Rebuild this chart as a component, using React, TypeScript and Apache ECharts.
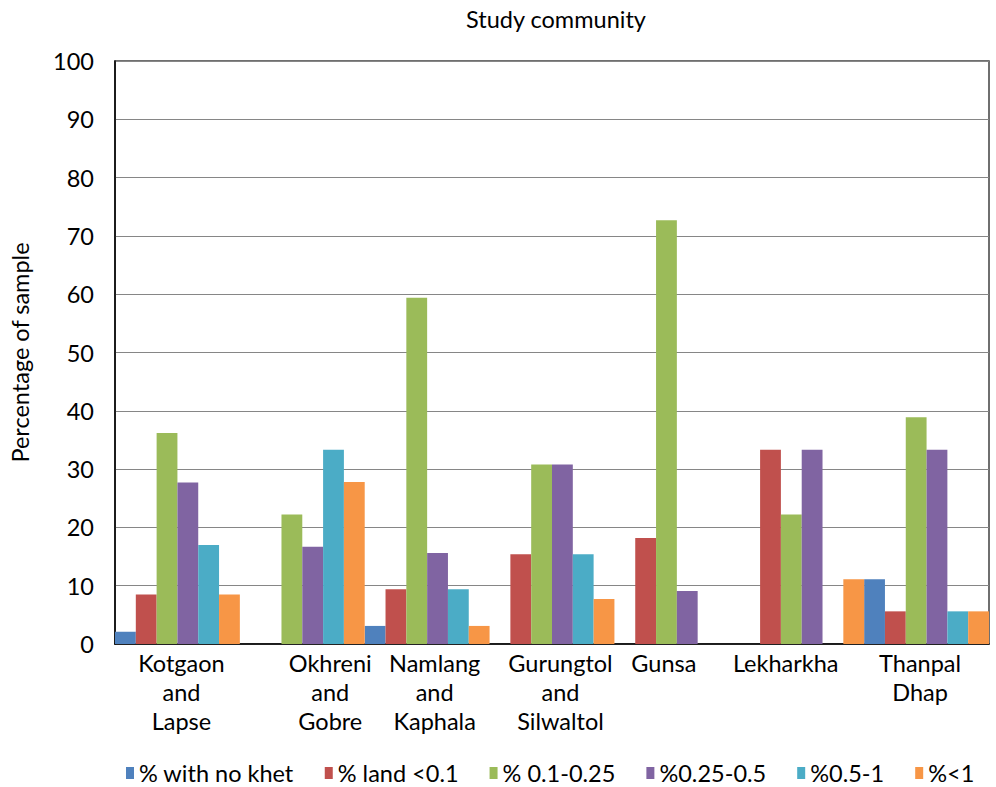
import React, { useEffect, useRef } from "react";
import * as echarts from "echarts";

const categories = [
  "Kotgaon\nand\nLapse",
  "Okhreni\nand\nGobre",
  "Namlang\nand\nKaphala",
  "Gurungtol\nand\nSilwaltol",
  "Gunsa",
  "Lekharkha",
  "Thanpal\nDhap",
];

const seriesNames = [
  "% with no khet",
  "% land <0.1",
  "% 0.1-0.25",
  "%0.25-0.5",
  "%0.5-1",
  "%<1",
];

const noKhet = [2.1, 0, 3.1, 0, 0, 0, 11.1];
const landLt01 = [8.5, 0, 9.4, 15.4, 18.2, 33.3, 5.6];
const land01to025 = [36.2, 22.2, 59.4, 30.8, 72.7, 22.2, 38.9];
const land025to05 = [27.7, 16.7, 15.6, 30.8, 9.1, 33.3, 33.3];
const land05to1 = [17.0, 33.3, 9.4, 15.4, 0, 0, 5.6];
const landLt1 = [8.5, 27.8, 3.1, 7.7, 0, 11.1, 5.6];

const yTicks = { min: 0, max: 100, interval: 10 };

const colors = ["#4F81BD", "#C0504D", "#9BBB59", "#8064A2", "#4BACC6", "#F79646"];

const FONT = "Lato";
const FS = 23.5;

// horizontal nudges of the category labels (left pad, right pad)
const labelPads: [number, number][] = [
  [8, 0],
  [56, 0],
  [15, 0],
  [17, 0],
  [0, 26],
  [0, 32],
  [0, 13],
];

export default function App() {
  const ref = useRef<HTMLDivElement>(null);

  useEffect(() => {
    if (!ref.current) return;
    const chart = echarts.init(ref.current, undefined, { renderer: "svg" });
    const allData = [noKhet, landLt01, land01to025, land025to05, land05to1, landLt1];

    const rich: Record<string, any> = {};
    labelPads.forEach((p, i) => {
      rich["c" + i] = {
        fontFamily: FONT,
        fontSize: FS,
        lineHeight: 29,
        color: "#000",
        padding: [0, p[1], 0, p[0]],
      };
    });

    chart.setOption({
      animation: false,
      backgroundColor: "#fff",
      textStyle: { fontFamily: FONT },
      title: {
        text: "Study community",
        left: 551,
        top: 2,
        textAlign: "center",
        textStyle: { fontFamily: FONT, fontSize: FS, fontWeight: "normal", color: "#000" },
      },
      legend: {
        data: seriesNames,
        left: 121,
        top: 756,
        itemWidth: 8,
        itemHeight: 12,
        itemGap: 31,
        icon: "rect",
        textStyle: { fontFamily: FONT, fontSize: FS, color: "#000" },
      },
      grid: {
        left: 110,
        right: 7,
        top: 61,
        bottom: 143,
        show: true,
        borderColor: "#404040",
        borderWidth: 1.5,
        backgroundColor: "transparent",
      },
      xAxis: {
        type: "category",
        data: categories,
        axisLine: { show: true, lineStyle: { color: "#000", width: 1.5 } },
        axisTick: { show: false },
        axisLabel: {
          interval: 0,
          margin: 4,
          fontFamily: FONT,
          fontSize: FS,
          lineHeight: 29,
          color: "#000",
          formatter: (value: string, index: number) =>
            value
              .split("\n")
              .map((l) => `{c${index}|${l}}`)
              .join("\n"),
          rich,
        },
      },
      yAxis: {
        type: "value",
        min: yTicks.min,
        max: yTicks.max,
        interval: yTicks.interval,
        name: "Percentage of sample",
        nameLocation: "middle",
        nameGap: 83,
        nameTextStyle: { fontFamily: FONT, fontSize: FS, color: "#000" },
        axisLine: { show: true, lineStyle: { color: "#000", width: 1.5 } },
        axisTick: { show: false },
        axisLabel: { margin: 21, fontFamily: FONT, fontSize: FS, color: "#000" },
        splitLine: { show: true, lineStyle: { color: "#868686", width: 1 } },
      },
      series: seriesNames.map((name, i) => ({
        name,
        type: "bar",
        data: allData[i],
        barGap: "0%",
        barCategoryGap: "0%",
        itemStyle: { color: colors[i] },
      })),
    });

    return () => chart.dispose();
  }, []);

  return <div ref={ref} style={{ width: 996, height: 787, position: "absolute", left: 0, top: 0 }} />;
}
